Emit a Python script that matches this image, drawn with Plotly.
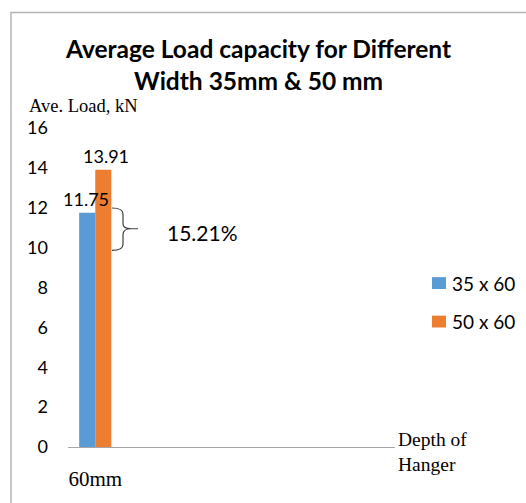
import plotly.graph_objects as go

# Chart data
categories = ["60mm", "c2", "c3", "c4", "c5", "c6"]
series_names = ["35 x 60", "50 x 60"]
series_values = [[11.75], [13.91]]
series_colors = ["#5B9BD5", "#ED7D31"]
y_ticks = [0, 2, 4, 6, 8, 10, 12, 14, 16]
difference_label = "15.21%"

W, H = 526, 503
# plot area in pixels
L, R, T, B = 68, 395, 128, 451


def px(x):
    return (x - L) / (R - L)


def py(y):
    return (B - y) / (B - T)


sans = "Lato"
serif = "Liberation Serif"

fig = go.Figure()
for name, vals, col in zip(series_names, series_values, series_colors):
    fig.add_trace(go.Bar(
        x=categories[:len(vals)], y=vals, name=name,
        marker=dict(color=col, line=dict(width=0)),
        showlegend=False,
    ))

# value labels above the bars, kept on top of both bars
label_shift = [-9, 11]
value_labels = []
for vals, dx in zip(series_values, label_shift):
    for cat, v in zip(categories, vals):
        value_labels.append(dict(
            text=f"{v:.2f}", x=cat, y=v, xref="x", yref="y",
            showarrow=False, xanchor="center", yanchor="bottom",
            xshift=dx, yshift=1,
            font=dict(family=sans, size=18, color="#000000")))

# legend drawn as swatches + labels at the right of the plot
legend_rows = [285, 324]
legend_shapes = []
legend_labels = []
for name, col, yc in zip(series_names, series_colors, legend_rows):
    legend_shapes.append(dict(
        type="rect", xref="paper", yref="paper",
        x0=px(432), x1=px(446), y0=py(yc + 6), y1=py(yc - 6),
        fillcolor=col, line=dict(width=0)))
    legend_labels.append(dict(
        text=name, x=px(450), y=py(yc), xref="paper", yref="paper",
        showarrow=False, xanchor="left", yanchor="middle",
        font=dict(family=sans, size=19, color="#000000")))

annotations = value_labels + legend_labels + [
    dict(text="<b>Average Load capacity for Different</b>", x=px(258), y=py(48),
         xref="paper", yref="paper", showarrow=False, xanchor="center", yanchor="middle",
         font=dict(family=sans, size=24.5, color="#000000")),
    dict(text="<b>Width 35mm & 50 mm</b>", x=px(258), y=py(80),
         xref="paper", yref="paper", showarrow=False, xanchor="center", yanchor="middle",
         font=dict(family=sans, size=24.5, color="#000000")),
    dict(text="Ave. Load, kN", x=px(27), y=py(106), xref="paper", yref="paper",
         showarrow=False, xanchor="left", yanchor="middle",
         font=dict(family=serif, size=18.5, color="#000000")),
    dict(text="Depth of<br>Hanger", x=px(396), y=py(456), xref="paper", yref="paper",
         showarrow=False, xanchor="left", yanchor="middle", align="left",
         font=dict(family=serif, size=19.5, color="#000000")),
    dict(text=difference_label, x=px(202), y=py(234), xref="paper", yref="paper",
         showarrow=False, xanchor="center", yanchor="middle",
         font=dict(family=sans, size=21, color="#000000")),
]


def pt(x, y):
    return f"{px(x):.5f},{py(y):.5f}"


brace = (
    f"M {pt(112, 209)} Q {pt(123, 209)} {pt(123, 215)} L {pt(123, 225)} "
    f"Q {pt(123, 230)} {pt(131, 230)} L {pt(138, 230)} "
    f"M {pt(131, 230)} Q {pt(123, 230)} {pt(123, 236)} L {pt(123, 246)} "
    f"Q {pt(123, 252)} {pt(112, 252)}"
)

shapes = legend_shapes + [
    # outer frame
    dict(type="rect", xref="paper", yref="paper",
         x0=px(11), y0=py(560), x1=px(600), y1=py(11),
         line=dict(color="#B4B4B4", width=1.5), fillcolor="rgba(0,0,0,0)", layer="below"),
    # brace between the two bars
    dict(type="path", xref="paper", yref="paper", path=brace,
         line=dict(color="#404040", width=1.2)),
]

fig.update_layout(
    width=W, height=H,
    margin=dict(l=L, r=W - R, t=T, b=H - B, pad=0),
    paper_bgcolor="white", plot_bgcolor="white",
    barmode="group", bargap=0.41, bargroupgap=0,
    showlegend=False,
    annotations=annotations, shapes=shapes,
    xaxis=dict(type="category", categoryorder="array", categoryarray=categories,
               range=[-0.5, len(categories) - 0.5],
               tickvals=["60mm"], ticktext=["60mm"],
               showline=True, linecolor="#A6A6A6", linewidth=1,
               showgrid=False, zeroline=False, ticks="",
               ticklabelstandoff=13,
               tickfont=dict(family=serif, size=21, color="#000000")),
    yaxis=dict(range=[0, 16], tickvals=y_ticks, showline=False, showgrid=False,
               zeroline=False, ticks="", ticklabelstandoff=19,
               tickfont=dict(family=sans, size=18, color="#000000")),
)

fig.write_html("out.html")
